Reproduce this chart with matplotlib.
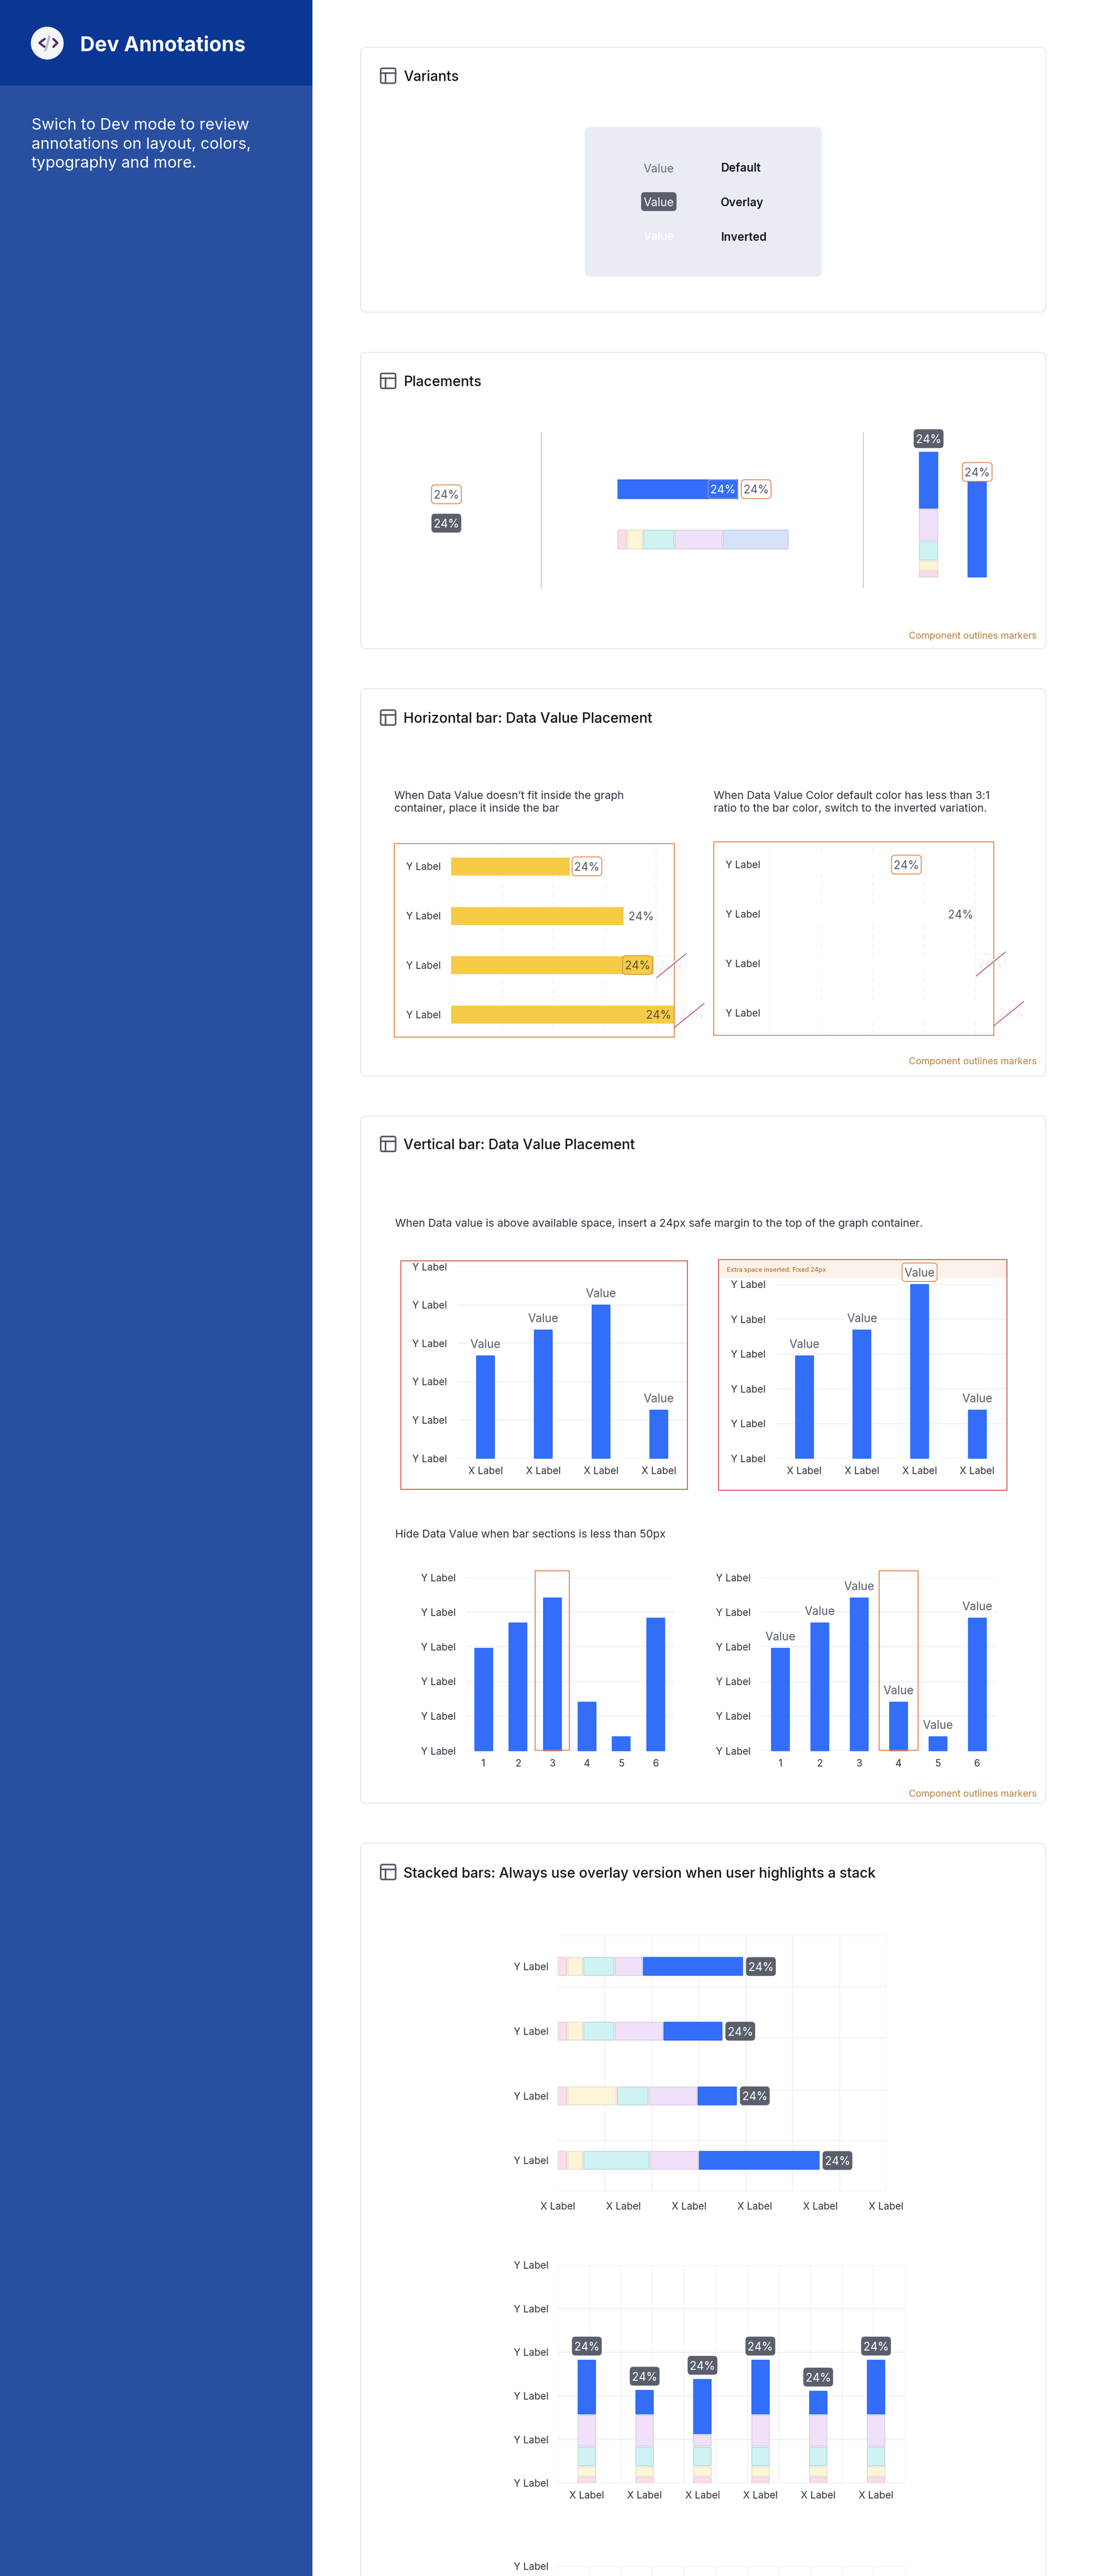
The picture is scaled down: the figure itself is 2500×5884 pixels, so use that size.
import matplotlib
matplotlib.use('Agg')
import matplotlib.pyplot as plt
import numpy as np
from matplotlib.patches import FancyBboxPatch, Rectangle, Circle

plt.rcParams['font.family'] = ['Inter', 'DejaVu Sans']

W, H = 2500, 5884
BLUE = '#326EF9'
YELLOW = '#F6CB45'
STACK_COLORS = ['#FBDDE6', '#FEF4D8', '#CFF2F2', '#F1E0F9', '#D6E2FB']
STACK_EDGES = ['#E6CDD6', '#E6DFC8', '#BAD9DB', '#DDCDE5', '#C2CDE3']
ORANGE = '#E2854A'
RED = '#D4575A'
DARK = '#5B5E6B'
GRID = '#EDEFF2'
TXT = '#2F333D'
VAL = '#565A68'

# section 2
PLACE_BAR = [274]
PLACE_STACK = [22, 37, 72, 110, 151]
PLACE_VSTACK = [16, 23, 45, 73, 131]
PLACE_VBAR = [218]

# section 3
HBAR_VALUES = [2.30, 3.35, 3.93, 4.34]
HBAR_LABELS = ['Y Label'] * 4

# section 4
VBAR_A = [2.67, 3.34, 4.00, 1.26]
VBAR_B = [2.95, 3.69, 5.00, 1.39]
VBAR_YLABELS = ['Y Label'] * 6
VBAR_XLABELS = ['X Label'] * 4
HIDE_VALUES = [2.95, 3.69, 4.41, 1.40, 0.40, 3.83]
HIDE_XLABELS = ['1', '2', '3', '4', '5', '6']

# section 5, one list per stack layer, bottom layer first
HS_PINK = [0.21, 0.21, 0.21, 0.21]
HS_YELLOW = [0.34, 0.34, 1.06, 0.34]
HS_TEAL = [0.67, 0.67, 0.68, 1.42]
HS_PURPLE = [0.60, 1.04, 1.03, 1.04]
HS_BLUE = [2.14, 1.26, 0.85, 2.58]
HS_XLABELS = ['X Label'] * 6

VS_PINK = [0.16] * 6
VS_YELLOW = [0.24] * 6
VS_TEAL = [0.45] * 6
VS_PURPLE = [0.73, 0.73, 0.28, 0.73, 0.73, 0.73]
VS_BLUE = [1.27, 0.58, 1.28, 1.27, 0.56, 1.27]
VS_XLABELS = ['X Label'] * 6

fig = plt.figure(figsize=(W / 100, H / 100), dpi=100, facecolor='white')


def page_axes(z):
    a = fig.add_axes([0, 0, 1, 1], zorder=z)
    a.set_xlim(0, W)
    a.set_ylim(H, 0)
    a.axis('off')
    a.patch.set_alpha(0)
    return a


bg = page_axes(0)
fg = page_axes(10)


def pt(px):
    return px * 0.72


def txt(x, y, s, size=25, color=TXT, ha='left', weight='normal', a=None, z=5):
    (a or fg).text(x, y, s, fontsize=pt(size), color=color, ha=ha, va='center_baseline',
                   fontweight=weight, zorder=z)


def rbox(a, x0, y0, x1, y1, r=6, fc='white', ec='none', lw=2, z=2):
    p = FancyBboxPatch((x0 + r, y0 + r), x1 - x0 - 2 * r, y1 - y0 - 2 * r,
                       boxstyle=f'round,pad={r},rounding_size={r}', fc=fc, ec=ec,
                       lw=pt(lw), zorder=z)
    a.add_patch(p)


def chart_axes(l, t, r, b):
    a = fig.add_axes([l / W, 1 - b / H, (r - l) / W, (b - t) / H], zorder=5)
    a.patch.set_alpha(0)
    for s in a.spines.values():
        s.set_visible(False)
    a.tick_params(which='both', length=0, labelsize=pt(22.5), labelcolor=TXT)
    a.set_axisbelow(True)
    return a


def to_page(a, x, y):
    return fg.transData.inverted().transform(a.transData.transform((x, y)))


def badge(cx, cy, kind='outline', s='24%', w=68, h=43, size=26):
    x0, x1, y0, y1 = cx - w / 2, cx + w / 2, cy - h / 2, cy + h / 2
    if kind == 'outline':
        rbox(fg, x0, y0, x1, y1, 8, 'white', ORANGE, 2, z=3)
        txt(cx, cy, s, size, VAL, 'center')
    elif kind == 'dark':
        rbox(fg, x0, y0, x1, y1, 8, DARK, 'none', z=3)
        txt(cx, cy, s, size, 'white', 'center')
    elif kind == 'yellow':
        rbox(fg, x0, y0, x1, y1, 8, YELLOW, '#CF9A4A', 2, z=3)
        txt(cx, cy, s, size, '#5A5235', 'center')
    elif kind == 'blue':
        rbox(fg, x0, y0, x1, y1, 8, BLUE, '#9A8FB0', 2, z=3)
        txt(cx, cy, s, size, 'white', 'center')
    elif kind == 'ghost':
        rbox(fg, x0, y0, x1, y1, 8, 'none', '#F3F4F5', 2, z=3)
        txt(cx, cy, s, size, '#ECEDEF', 'center')
    elif kind == 'ghosttext':
        txt(cx, cy, s, size, '#ECEDEF', 'center')


def card(t, b, title=None, title_y=None):
    rbox(bg, 824, t, 2390, b, 14, 'white', '#E3E5E9', 2)
    if title:
        y0, y1 = title_y - 17, title_y + 17
        rbox(fg, 870, y0, 904, y1, 4, 'none', '#50545F', 3.5)
        fg.plot([870, 904], [y0 + 11, y0 + 11], color='#50545F', lw=pt(3.5))
        fg.plot([881, 881], [y0 + 11, y1], color='#50545F', lw=pt(3.5))
        txt(922, title_y, title, 32, '#14171F', weight='medium')


def caption(y):
    txt(2369, y, 'Component outlines markers', 21.5, '#B5813F', 'right')


def frame(x0, y0, x1, y1, color, lw=2.2):
    fg.add_patch(Rectangle((x0, y0), x1 - x0, y1 - y0, fc='none', ec=color, lw=pt(lw), zorder=4))


def slash(cx, cy, d0, d1):
    fg.plot([cx + d0[0], cx + d1[0]], [cy + d0[1], cy + d1[1]], color='#B5507A', lw=pt(2), zorder=6)


# sidebar
bg.add_patch(Rectangle((0, 0), 714, H, fc='#284FA0', ec='none'))
bg.add_patch(Rectangle((0, 0), 714, 196, fc='#0B3794', ec='none'))
fg.add_patch(Circle((108, 98.5), 37.5, fc='#F5F6FC', ec='none'))
fg.plot([102, 90, 102], [89, 98, 107], color='#4B2E6B', lw=pt(5), solid_capstyle='round', solid_joinstyle='round')
fg.plot([122, 131, 122], [89, 98, 107], color='#4B2E6B', lw=pt(5), solid_capstyle='round', solid_joinstyle='round')
fg.plot([113, 104], [83, 115], color='#B9B9C9', lw=pt(5), solid_capstyle='round')
txt(183, 99, 'Dev Annotations', 46.5, 'white', weight='bold')
for y, s in zip([283, 326, 370], ['Swich to Dev mode to review', 'annotations on layout, colors,', 'typography and more.']):
    txt(72, y, s, 36, 'white')

# variants
card(108, 713, 'Variants', 173)
rbox(bg, 1336, 290, 1878, 632, 12, '#E9EDF3', 'none', z=3)
txt(1505, 384, 'Value', 26, '#676B78', 'center')
rbox(fg, 1465, 439, 1546, 482, 8, DARK, 'none', z=3)
txt(1505, 461, 'Value', 26, 'white', 'center')
txt(1505, 538, 'Value', 26, 'white', 'center')
for y, s in zip([382, 461, 540], ['Default', 'Overlay', 'Inverted']):
    txt(1647, y, s, 26, '#14171F', weight='semibold')

# placements
card(805, 1482, 'Placements', 870)
caption(1451)
for x in [1237, 1973]:
    fg.plot([x, x], [988, 1343], color='#C7C9CE', lw=pt(2))
badge(1020, 1129)
badge(1020, 1195, 'dark')

ax = chart_axes(1412, 1095, 1811, 1254)
ax.set_xlim(0, 399)
ax.set_ylim(1, 0)
ax.axis('off')
ax.barh([0.14], PLACE_BAR, 0.27, color=BLUE, edgecolor=BLUE, lw=pt(2), joinstyle='round', clip_on=False)
left = 0
for v, c, e in zip(PLACE_STACK, STACK_COLORS, STACK_EDGES):
    ax.barh([0.865], [v - 3], 0.265, left=left, color=c, edgecolor=e, lw=pt(2), joinstyle='round', clip_on=False)
    left += v
end, cy = to_page(ax, PLACE_BAR[0], 0.14)
badge(end - 34, cy, 'blue')
badge(end + 42, cy)

ax = chart_axes(2060, 1033, 2300, 1318)
ax.set_xlim((2060 - 2122) / 111, (2300 - 2122) / 111)
ax.set_ylim(0, 285)
ax.axis('off')
bottom = 0
for v, c, e in zip(PLACE_VSTACK, STACK_COLORS[:4] + [BLUE], STACK_EDGES[:4] + [BLUE]):
    ax.bar([0], [v - 3], 42 / 111, bottom=bottom, color=c, edgecolor=e, lw=pt(2), joinstyle='round', clip_on=False)
    bottom += v
ax.bar([1], PLACE_VBAR, 42 / 111, color=BLUE, edgecolor=BLUE, lw=pt(2), joinstyle='round', clip_on=False)
cx, ty = to_page(ax, 0, bottom)
badge(cx, ty - 28, 'dark')
cx, ty = to_page(ax, 1, PLACE_VBAR[0])
badge(cx, ty - 22)

# horizontal bars
card(1573, 2458, 'Horizontal bar: Data Value Placement', 1639)
caption(2423)
txt(901, 1816, 'When Data Value doesn’t fit inside the graph')
txt(901, 1845, 'container, place it inside the bar')
txt(1631, 1816, 'When Data Value Color default color has less than 3:1')
txt(1631, 1845, 'ratio to the bar color, switch to the inverted variation.')


def hbar_chart(dx, dy, color):
    frame(901 + dx, 1927 + dy, 1541 + dx, 2369 + dy, ORANGE)
    a = chart_axes(1029 + dx, 1927 + dy, 1541 + dx, 2369 + dy)
    a.set_xlim(0, 512 / 117.5)
    a.set_ylim(3.46, -0.46)
    a.set_xticks([0, 1, 2, 3, 4])
    a.set_xticklabels([])
    a.set_yticks(range(4))
    a.set_yticklabels(HBAR_LABELS)
    a.tick_params(axis='y', pad=pt(22))
    a.grid(axis='x', color='#EFF0F2', lw=pt(2), ls=(0, (5, 5)))
    a.barh(range(4), HBAR_VALUES, 40 / 112.67, left=0.015, color=color, edgecolor=color, lw=pt(1), zorder=3)
    ends = [to_page(a, v, i) for i, v in enumerate(HBAR_VALUES)]
    badge(ends[0][0] + 42, ends[0][1])
    txt(ends[1][0] + 42, ends[1][1], '24%', 26, VAL, 'center')
    if color == YELLOW:
        badge(ends[2][0] - 34, ends[2][1], 'yellow')
        txt(ends[3][0] - 34, ends[3][1], '24%', 26, '#5A5235', 'center')
    badge(ends[2][0] + 42, ends[2][1], 'ghost')
    badge(ends[3][0] + 42, ends[3][1], 'ghosttext')
    slash(ends[2][0] + 42, ends[2][1], (-32, 29), (35, -26))
    slash(ends[3][0] + 42, ends[3][1], (-40, 30), (28, -25))


hbar_chart(0, 0, YELLOW)
hbar_chart(730, -4, 'white')

# vertical bars
card(2549, 4119, 'Vertical bar: Data Value Placement', 2613)
caption(4096)
txt(903, 2793, 'When Data value is above available space, insert a 24px safe margin to the top of the graph container.')
txt(903, 3503, 'Hide Data Value when bar sections is less than 50px')


def vbar_chart(l, r, t, b, c0, step, values, xlabels, bar_px=43, pad=23, xpad=19):
    a = chart_axes(l, t, r, b)
    a.set_xlim((l - c0) / step, (r - c0) / step)
    a.set_ylim(0, 5)
    a.set_yticks(range(6))
    a.set_yticklabels(VBAR_YLABELS)
    a.set_xticks(range(len(values)))
    a.set_xticklabels(xlabels)
    a.tick_params(axis='y', pad=pt(pad))
    a.tick_params(axis='x', pad=pt(xpad))
    a.grid(axis='y', color=GRID, lw=pt(2.5))
    a.bar(range(len(values)), values, (bar_px - 2) / step, color=BLUE, edgecolor=BLUE,
          lw=pt(2), joinstyle='round', clip_on=False, zorder=3)
    return a


def value_labels(a, values, skip=()):
    for i, v in enumerate(values):
        if i in skip:
            continue
        cx, ty = to_page(a, i, v)
        rbox(fg, cx - 40, ty - 46, cx + 40, ty - 12, 4, 'white', 'none', z=2)
        txt(cx, ty - 28, 'Value', 26, VAL, 'center')


a = vbar_chart(1045, 1571, 2893, 3331, 1109.5, 132, VBAR_A, VBAR_XLABELS)
value_labels(a, VBAR_A)
frame(916, 2880, 1571, 3402, RED)

fg.add_patch(Rectangle((1642, 2878), 659, 41, fc='#FDF2E9', ec='none', zorder=1))
a = vbar_chart(1772, 2301, 2934, 3331, 1838, 131.7, VBAR_B, VBAR_XLABELS)
value_labels(a, VBAR_B, skip=(2,))
cx, ty = to_page(a, 2, VBAR_B[2])
badge(cx, 2906, 'outline', 'Value', w=80, h=42, size=26)
frame(1642, 2877, 2301, 3404, RED)
txt(1661, 2899, 'Extra space inserted: Fixed 24px', 14.3, '#C2803A', weight='semibold')

vbar_chart(1065, 1539, 3603, 3999, 1105, 78.7, HIDE_VALUES, HIDE_XLABELS)
frame(1223, 3588, 1301, 3998, ORANGE)
a = vbar_chart(1739, 2278, 3603, 3999, 1783.5, 89.9, HIDE_VALUES, HIDE_XLABELS)
value_labels(a, HIDE_VALUES)
frame(2009, 3588, 2098, 3998, ORANGE)

# stacked bars
card(4210, H + 40, 'Stacked bars: Always use overlay version when user highlights a stack', 4276)

a = chart_axes(1275, 4421, 2026, 5005)
a.set_xlim(0, 7)
a.set_ylim(3.474, -0.48)
a.set_xticks(np.arange(6) * 1.398)
a.set_xticklabels(HS_XLABELS)
a.set_yticks(range(4))
a.set_yticklabels(['Y Label'] * 4)
a.set_xticks(range(8), minor=True)
a.set_yticks([-0.48, 0.31, 1.10, 1.90, 2.69, 3.474], minor=True)
a.grid(which='minor', color=GRID, lw=pt(2))
a.tick_params(axis='y', pad=pt(22))
a.tick_params(axis='x', pad=pt(25))
left = np.zeros(4)
layers = [HS_PINK, HS_YELLOW, HS_TEAL, HS_PURPLE, HS_BLUE]
for vals, c, e in zip(layers, STACK_COLORS[:4] + [BLUE], STACK_EDGES[:4] + [BLUE]):
    a.barh(range(4), np.array(vals) - 3 / 107.2, 41 / 147.7, left=left, color=c, edgecolor=e,
           lw=pt(2), joinstyle='round', zorder=3)
    left += np.array(vals)
for i, v in enumerate(left):
    ex, cy = to_page(a, v, i)
    badge(ex + 39, cy, 'dark')


def stack_chart(t, draw_bars):
    a = chart_axes(1275, t, 2068, t + 498.5)
    a.set_ylim(0, 5)
    a.set_xlim((1275 - 1341) / 132.2, (2068 - 1341) / 132.2)
    a.set_xticks([(1275 + 72.1 * i - 1341) / 132.2 for i in range(12)], minor=True)
    a.grid(axis='x', which='minor', color=GRID, lw=pt(1.5))
    a.tick_params(axis='y', pad=pt(22))
    a.tick_params(axis='x', pad=pt(18))
    if draw_bars:
        a.set_yticks(range(6))
        a.set_yticklabels(['Y Label'] * 6)
        a.set_xticks(range(6))
        a.set_xticklabels(VS_XLABELS)
        bottom = np.zeros(6)
        layers = [VS_PINK, VS_YELLOW, VS_TEAL, VS_PURPLE, VS_BLUE]
        for vals, c, e in zip(layers, STACK_COLORS[:4] + [BLUE], STACK_EDGES[:4] + [BLUE]):
            a.bar(range(6), np.array(vals) - 3 / 99.7, 40 / 132.2, bottom=bottom, color=c, edgecolor=e,
                  lw=pt(2), joinstyle='round', zorder=3)
            bottom += np.array(vals)
        for i, v in enumerate(bottom):
            cx, ty = to_page(a, i, v)
            badge(cx, ty - 29, 'dark')
    else:
        # only the top of the next chart is on the page
        a.set_yticks([5])
        a.set_yticklabels(['Y Label'])
        a.set_xticks([])
    a.grid(axis='y', which='major', color=GRID, lw=pt(2.5))


stack_chart(5173.5, True)
stack_chart(5861.5, False)

fig.savefig('out.png', dpi=100)
